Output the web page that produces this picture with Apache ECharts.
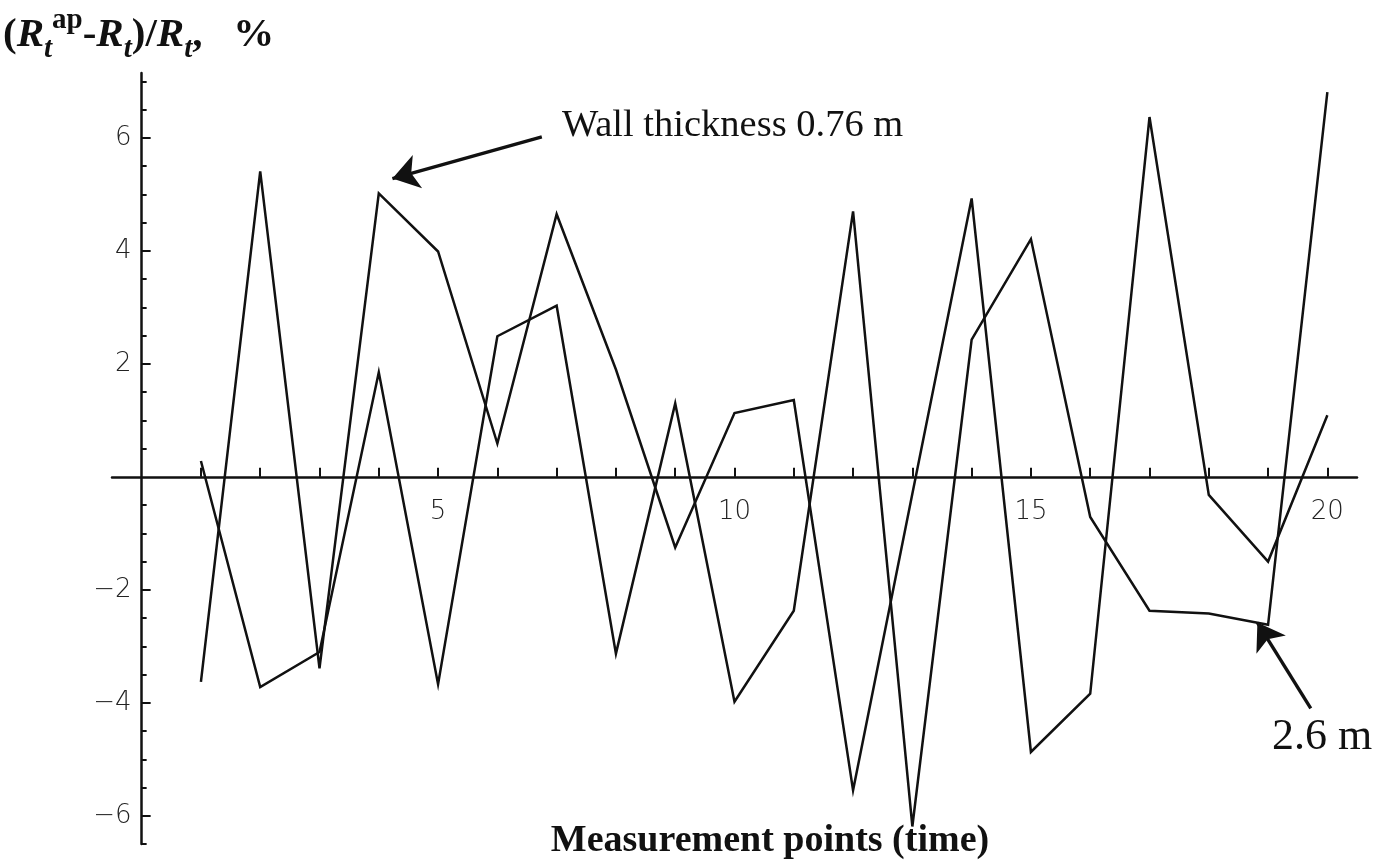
<!DOCTYPE html>
<html>
<head>
<meta charset="utf-8">
<title>Measurement points</title>
<script src="https://cdn.jsdelivr.net/npm/echarts@6/dist/echarts.min.js"></script>
<style>
  html, body { margin: 0; padding: 0; background: #fff; }
  #main { width: 1375px; height: 867px; }
</style>
</head>
<body>
<div id="main"></div>
<script>
// measurement points 1..20
var points = [1, 2, 3, 4, 5, 6, 7, 8, 9, 10, 11, 12, 13, 14, 15, 16, 17, 18, 19, 20];
// wall thickness 0.76 m
var wall076 = [-3.63, 5.41, -3.39, 5.02, 3.99, 0.59, 4.65, 1.9, -1.25, 1.13, 1.36, -5.55, -0.3, 4.93, -4.87, -3.84, 6.37, -0.32, -1.5, 1.09];
// wall thickness 2.6 m
var wall26 = [0.28, -3.72, -3.1, 1.85, -3.67, 2.49, 3.03, -3.13, 1.3, -3.98, -2.37, 4.7, -6.19, 2.43, 4.21, -0.71, -2.37, -2.42, -2.62, 6.81];

var xTicks = points;
var xLabels = [5, 10, 15, 20];
var yLabels = [-6, -4, -2, 2, 4, 6];
var yMinor = [-6.5, -6, -5.5, -5, -4.5, -4, -3.5, -3, -2.5, -2, -1.5, -1, -0.5, 0.5, 1, 1.5, 2, 2.5, 3, 3.5, 4, 4.5, 5, 5.5, 6, 6.5, 7];

function pairs(ys) {
  var out = [];
  for (var i = 0; i < points.length; i++) {
    out.push([points[i], ys[i]]);
  }
  return out;
}

(function () {
  var chart = echarts.init(document.getElementById('main'));
  var ink = '#111';

  // grid box and axis ranges
  var gLeft = 112, gRight = 18, gTop = 73, gBottom = 23;
  var xMin = -0.5, xMax = 20.5, yMin = -6.5, yMax = 7.15;
  var gW = 1375 - gLeft - gRight, gH = 867 - gTop - gBottom;
  // axes cross at (0, 0): shift them from the grid edges with offset
  var xOff = -(0 - yMin) / (yMax - yMin) * gH;
  var yOff = -(0 - xMin) / (xMax - xMin) * gW;

  var tickFont = { color: '#222', fontFamily: 'DejaVu Sans', fontWeight: 200, fontSize: 26 };
  var lineStyle = { color: ink, width: 2.5, join: 'miter', miterLimit: 6 };
  function minus(v) {
    return String(v).replace('-', '\u2212');
  }
  var arrowLine = {
    silent: true,
    symbol: ['none', 'arrow'],
    symbolSize: 26,
    label: { show: false },
    emphasis: { disabled: true },
    lineStyle: { color: ink, width: 3.4, type: 'solid' }
  };

  var option = {
    animation: false,
    backgroundColor: '#fff',
    grid: { left: gLeft, right: gRight, top: gTop, bottom: gBottom, containLabel: false, outerBoundsMode: 'none' },
    xAxis: {
      type: 'value',
      min: xMin,
      max: xMax,
      offset: xOff,
      axisLine: { onZero: false, lineStyle: { color: ink, width: 2.5 } },
      axisTick: { inside: true, length: 9, customValues: xTicks, lineStyle: { color: ink, width: 2 } },
      axisLabel: Object.assign({ customValues: xLabels, margin: 22, formatter: minus }, tickFont),
      splitLine: { show: false }
    },
    yAxis: [
      {
        type: 'value',
        min: yMin,
        max: yMax,
        offset: yOff,
        axisLine: { onZero: false, lineStyle: { color: ink, width: 2.5 } },
        axisTick: { inside: true, length: 5, customValues: yMinor, lineStyle: { color: ink, width: 2 } },
        axisLabel: Object.assign({ customValues: yLabels, margin: 10, formatter: minus }, tickFont),
        splitLine: { show: false }
      },
      {
        type: 'value',
        min: yMin,
        max: yMax,
        position: 'left',
        offset: yOff,
        axisLine: { show: false, onZero: false },
        axisTick: { inside: true, length: 9, customValues: yLabels, lineStyle: { color: ink, width: 2 } },
        axisLabel: { show: false },
        splitLine: { show: false }
      }
    ],
    series: [
      {
        name: 'Wall thickness 0.76 m',
        type: 'line',
        data: pairs(wall076),
        showSymbol: false,
        lineStyle: lineStyle,
        markLine: Object.assign({
          data: [
            [{ coord: [6.75, 6.02] }, { coord: [4.23, 5.28] }]
          ]
        }, arrowLine)
      },
      {
        name: '2.6 m',
        type: 'line',
        data: pairs(wall26),
        showSymbol: false,
        lineStyle: lineStyle,
        markLine: Object.assign({
          data: [
            [{ coord: [19.72, -4.1] }, { coord: [18.82, -2.58] }]
          ]
        }, arrowLine)
      }
    ],
    graphic: [
      {
        type: 'text',
        left: 3,
        top: 6,
        style: {
          text: '{p|(}{r|R}{s|t}{u|ap}{p|-}{r|R}{s|t}{p|)/}{r|R}{s|t}{p|,   %}',
          rich: {
            p: { fontFamily: 'Liberation Serif', fontWeight: 'bold', fontSize: 41, lineHeight: 58, fill: ink },
            r: { fontFamily: 'Liberation Serif', fontWeight: 'bold', fontStyle: 'italic', fontSize: 41, lineHeight: 58, fill: ink },
            s: { fontFamily: 'Liberation Serif', fontWeight: 'bold', fontStyle: 'italic', fontSize: 29, verticalAlign: 'bottom', lineHeight: 58, fill: ink },
            u: { fontFamily: 'Liberation Serif', fontWeight: 'bold', fontSize: 29, verticalAlign: 'top', lineHeight: 32, fill: ink }
          }
        }
      },
      {
        type: 'text',
        x: 562,
        y: 126,
        style: {
          text: 'Wall thickness 0.76 m',
          fontFamily: 'Liberation Serif',
          fontSize: 38.5,
          fill: ink,
          verticalAlign: 'middle'
        }
      },
      {
        type: 'text',
        x: 1272,
        y: 737,
        style: {
          text: '2.6 m',
          fontFamily: 'Liberation Serif',
          fontSize: 44,
          fill: ink,
          verticalAlign: 'middle'
        }
      },
      {
        type: 'text',
        x: 770,
        y: 841,
        style: {
          text: 'Measurement points (time)',
          fontFamily: 'Liberation Serif',
          fontWeight: 'bold',
          fontSize: 38,
          fill: ink,
          align: 'center',
          verticalAlign: 'middle'
        }
      }
    ]
  };
  chart.setOption(option);
  window.addEventListener('resize', function () {
    chart.resize();
  });
})();
</script>
</body>
</html>
